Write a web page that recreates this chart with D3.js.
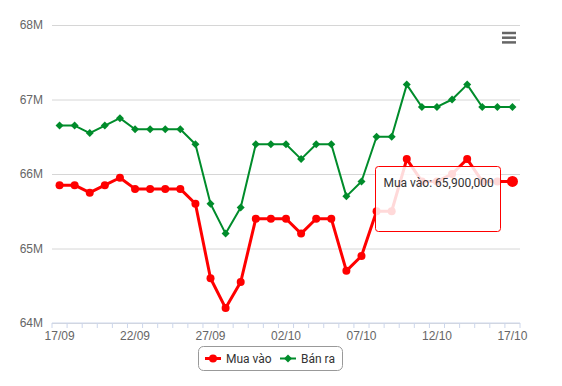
<!DOCTYPE html>
<html>
<head>
<meta charset="utf-8">
<script src="https://cdn.jsdelivr.net/npm/d3@7"></script>
<style>
body { margin: 0; background: #fff; }
svg { font-family: Roboto, "Open Sans", sans-serif; }
.grid line { stroke: #d6d6d6; }
.grid text { fill: #666; font-size: 12px; }
.xaxis text { fill: #666; font-size: 12px; }
</style>
</head>
<body>
<svg width="562" height="386"></svg>
<script>
var days = ["17/09","18/09","19/09","20/09","21/09","22/09","23/09","24/09","25/09","26/09",
  "27/09","28/09","29/09","30/09","01/10","02/10","03/10","04/10","05/10","06/10",
  "07/10","08/10","09/10","10/10","11/10","12/10","13/10","14/10","15/10","16/10","17/10"];

// millions VND
var muaVao = [65.85,65.85,65.75,65.85,65.95,65.8,65.8,65.8,65.8,65.6,
  64.6,64.2,64.55,65.4,65.4,65.4,65.2,65.4,65.4,64.7,
  64.9,65.5,65.5,66.2,65.9,65.9,66.0,66.2,65.9,65.9,65.9];
var banRa = [66.65,66.65,66.55,66.65,66.75,66.6,66.6,66.6,66.6,66.4,
  65.6,65.2,65.55,66.4,66.4,66.4,66.2,66.4,66.4,65.7,
  65.9,66.5,66.5,67.2,66.9,66.9,67.0,67.2,66.9,66.9,66.9];

var yTicks = [64, 65, 66, 67, 68];
var labelDays = ["17/09","22/09","27/09","02/10","07/10","12/10","17/10"];

var svg = d3.select("svg"),
    plotL = 52, plotR = 520, plotT = 25, plotB = 323;

var x = d3.scaleBand().domain(days).range([plotL, plotR]).padding(0);
var y = d3.scaleLinear().domain([64, 68]).range([plotB, plotT]);
var cx = function(d, i) { return x(days[i]) + x.bandwidth() / 2; };

// grid + y labels
var grid = svg.append("g")
  .attr("class", "grid")
  .attr("transform", "translate(" + plotL + ",0)")
  .call(d3.axisLeft(y).tickValues(yTicks).tickSize(-(plotR - plotL)).tickPadding(9)
    .tickFormat(function(d) { return d + "M"; }));
grid.select(".domain").remove();

// x axis
var xa = svg.append("g")
  .attr("class", "xaxis")
  .attr("transform", "translate(0," + plotB + ")")
  .call(d3.axisBottom(x).tickValues(labelDays).tickSize(0).tickPadding(8));
xa.select(".domain").remove();
xa.append("line").attr("x1", plotL).attr("x2", plotR).attr("stroke", "#ccd6eb");
xa.selectAll(".bt")
  .data(days.map(function(d) { return x(d); }).concat([x.range()[1]]))
  .enter().append("line")
  .attr("x1", function(d) { return d; }).attr("x2", function(d) { return d; })
  .attr("y1", 0).attr("y2", 5).attr("stroke", "#ccd6eb");

var line = d3.line().x(cx).y(function(d) { return y(d); });

// Mua vào
svg.append("path").datum(muaVao)
  .attr("d", line).attr("fill", "none").attr("stroke", "#ff0000")
  .attr("stroke-width", 3).attr("stroke-linejoin", "round");
svg.selectAll(".mv").data(muaVao).enter().append("circle")
  .attr("cx", cx).attr("cy", function(d) { return y(d); })
  .attr("r", function(d, i) { return i === muaVao.length - 1 ? 5.5 : 4; })
  .attr("fill", "#ff0000");

// Bán ra
svg.append("path").datum(banRa)
  .attr("d", line).attr("fill", "none").attr("stroke", "#008c2b")
  .attr("stroke-width", 2).attr("stroke-linejoin", "round");
var diamond = "M0,-4L4,0L0,4L-4,0Z";
svg.selectAll(".br").data(banRa).enter().append("path")
  .attr("d", diamond)
  .attr("transform", function(d, i) { return "translate(" + cx(d, i) + "," + y(d) + ")"; })
  .attr("fill", "#008c2b");

// tooltip
var tip = svg.append("g").attr("transform", "translate(375.5,166.5)");
tip.append("rect").attr("width", 125).attr("height", 65).attr("rx", 3)
  .attr("fill", "rgba(255,255,255,0.85)").attr("stroke", "#ff0000");
tip.append("text").attr("x", 8).attr("y", 20).attr("font-size", 12).attr("fill", "#333")
  .text("Mua vào: " + d3.format(",")(Math.round(muaVao[muaVao.length - 1] * 1e6)));

// menu button
svg.selectAll(".menu").data([0, 1, 2]).enter().append("line")
  .attr("x1", 502).attr("x2", 516)
  .attr("y1", function(d) { return 33 + d * 4.7; }).attr("y2", function(d) { return 33 + d * 4.7; })
  .attr("stroke", "#666").attr("stroke-width", 2.5);

// legend
var lg = svg.append("g").attr("transform", "translate(198,346)");
lg.append("rect").attr("x", 0.5).attr("y", 0.5).attr("width", 144).attr("height", 24).attr("rx", 5)
  .attr("fill", "none").attr("stroke", "#999");
var items = [
  {name: "Mua vào", color: "#ff0000", x: 7, w: 3, sym: "c"},
  {name: "Bán ra", color: "#008c2b", x: 82, w: 2, sym: "d"}
];
items.forEach(function(it) {
  var g = lg.append("g").attr("transform", "translate(" + it.x + ",12.5)");
  g.append("line").attr("x1", 0).attr("x2", 16).attr("stroke", it.color).attr("stroke-width", it.w);
  if (it.sym === "c") g.append("circle").attr("cx", 8).attr("r", 4).attr("fill", it.color);
  else g.append("path").attr("d", diamond).attr("transform", "translate(8,0)").attr("fill", it.color);
  g.append("text").attr("x", 21).attr("y", 4.5).attr("font-size", 12).attr("fill", "#333").text(it.name);
});
</script>
</body>
</html>
